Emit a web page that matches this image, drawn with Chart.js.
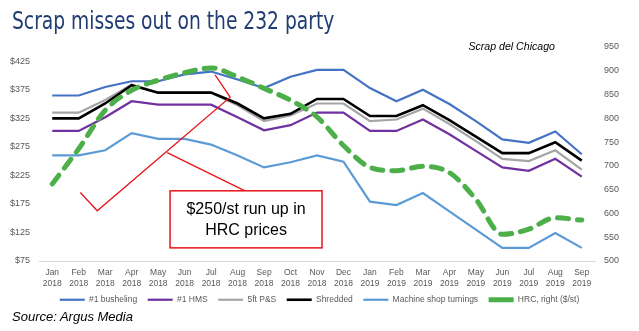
<!DOCTYPE html>
<html lang="en">
<head>
<meta charset="UTF-8" />
<meta name="viewport" content="width=device-width, initial-scale=1.0" />
<title>Scrap misses out on the 232 party</title>
<script src="https://cdn.jsdelivr.net/npm/chart.js"></script>
<style>
  html, body { margin: 0; padding: 0; background: #ffffff; }
  .wrap { position: relative; width: 639px; height: 331px; overflow: hidden; }
  .wrap canvas { position: absolute; left: 0; top: 0; }
  h1 {
    position: absolute; left: 12px; top: 7px; margin: 0;
    font-family: "DejaVu Sans Condensed", "DejaVu Sans", sans-serif;
    font-weight: normal; font-size: 24px; color: #203d74; white-space: nowrap;
    transform: scaleX(0.865); transform-origin: 0 0;
  }
  .sub {
    position: absolute; right: 84px; top: 40px;
    font-family: "Liberation Sans", Arial, sans-serif; font-style: italic; font-size: 10.6px; color: #000;
  }
  .source {
    position: absolute; left: 12px; top: 309px;
    font-family: "Liberation Sans", Arial, sans-serif; font-style: italic; font-size: 13px; color: #000;
  }
</style>
</head>
<body>
<div class="wrap">
  <canvas id="scrapChart" width="639" height="331"></canvas>
  <h1>Scrap misses out on the 232 party</h1>
  <div class="sub">Scrap del Chicago</div>
  <div class="source">Source: Argus Media</div>
</div>

<script>
  // months on the x axis
  const months = [
    ["Jan", "2018"], ["Feb", "2018"], ["Mar", "2018"], ["Apr", "2018"], ["May", "2018"],
    ["Jun", "2018"], ["Jul", "2018"], ["Aug", "2018"], ["Sep", "2018"], ["Oct", "2018"],
    ["Nov", "2018"], ["Dec", "2018"], ["Jan", "2019"], ["Feb", "2019"], ["Mar", "2019"],
    ["Apr", "2019"], ["May", "2019"], ["Jun", "2019"], ["Jul", "2019"], ["Aug", "2019"],
    ["Sep", "2019"]
  ];

  // scrap prices, left axis ($/t)
  const busheling = [365, 365, 380, 390, 390, 402, 407, 393, 378, 398, 410, 410, 378, 355, 375, 350, 320, 288, 282, 302, 262];
  const hms = [303, 303, 327, 355, 349, 349, 349, 327, 304, 313, 335, 335, 303, 303, 323, 297, 268, 239, 233, 254, 223];
  const plateStructural = [335, 335, 357, 384, 370, 370, 370, 348, 320, 330, 351, 351, 320, 323, 342, 315, 285, 254, 250, 269, 235];
  const shredded = [325, 325, 351, 383, 370, 370, 370, 351, 325, 333, 359, 359, 329, 329, 348, 322, 293, 264, 264, 283, 251];
  const turnings = [260, 260, 269, 299, 289, 289, 279, 260, 239, 248, 260, 249, 179, 173, 194, 162, 130, 98, 98, 124, 98];

  // HRC, right axis ($/st)
  const hrc = [662, 736, 817, 859, 880, 896, 906, 887, 863, 838, 803, 743, 697, 690, 699, 686, 630, 556, 567, 591, 586];

  const leftTicks = [75, 125, 175, 225, 275, 325, 375, 425];
  const rightTicks = [500, 550, 600, 650, 700, 750, 800, 850, 900, 950];

  const calloutText = ["$250/st run up in", "HRC prices"];

  const labelFont = "'Liberation Sans', Arial, sans-serif";
  const grey = "#595959";

  // red callout, placed in axis units (x = month index, y = left axis)
  const callout = {
    arrow: [[6.15, 401], [6.72, 362], [1.70, 163], [1.06, 195]],
    pointer: [[4.34, 265], [7.28, 198]],
    box: [4.45, 198, 10.19, 98]
  };

  const calloutPlugin = {
    id: "callout",
    afterLayout(chart) {
      // legend sits a little closer to the axis labels than its padding allows
      const lg = chart.legend;
      if (lg) { lg.top -= 6; lg.bottom -= 6; }
    },
    afterDatasetsDraw(chart) {
      const { ctx } = chart;
      const xs = chart.scales.x;
      const ys = chart.scales.y;
      const px = (p) => [xs.getPixelForValue(p[0]), ys.getPixelForValue(p[1])];
      ctx.save();
      ctx.strokeStyle = "#e8141b";
      ctx.lineWidth = 1.3;
      ctx.beginPath();
      callout.arrow.forEach((p, i) => {
        const [x, y] = px(p);
        if (i === 0) ctx.moveTo(x, y); else ctx.lineTo(x, y);
      });
      ctx.stroke();
      ctx.beginPath();
      ctx.moveTo(...px(callout.pointer[0]));
      ctx.lineTo(...px(callout.pointer[1]));
      ctx.stroke();

      const [x1, y1] = px([callout.box[0], callout.box[1]]);
      const [x2, y2] = px([callout.box[2], callout.box[3]]);
      ctx.fillStyle = "#ffffff";
      ctx.fillRect(x1, y1, x2 - x1, y2 - y1);
      ctx.lineWidth = 1.5;
      ctx.strokeRect(x1, y1, x2 - x1, y2 - y1);

      ctx.fillStyle = "#000000";
      ctx.font = "16px " + labelFont;
      ctx.textAlign = "center";
      ctx.textBaseline = "middle";
      const cx = (x1 + x2) / 2;
      const cy = (y1 + y2) / 2;
      ctx.fillText(calloutText[0], cx, cy - 10);
      ctx.fillText(calloutText[1], cx, cy + 11);
      ctx.restore();
    }
  };

  const line = (label, data, color, order, extra) => Object.assign({
    label: label,
    data: data,
    borderColor: color,
    backgroundColor: color,
    borderWidth: 2.2,
    pointRadius: 0,
    tension: 0,
    yAxisID: "y",
    order: order
  }, extra || {});

  const ctx = document.getElementById("scrapChart").getContext("2d");

  const chart = new Chart(ctx, {
    type: "line",
    data: {
      labels: months,
      datasets: [
        line("#1 busheling", busheling, "#4472c4", 5),
        line("#1 HMS", hms, "#7030a0", 4),
        line("5ft P&S", plateStructural, "#a5a5a5", 3),
        line("Shredded", shredded, "#000000", 2, { borderWidth: 2.6 }),
        line("Machine shop turnings", turnings, "#5b9bd5", 6),
        line("HRC, right ($/st)", hrc, "#4daf4a", 1, {
          yAxisID: "y2",
          borderWidth: 5,
          borderDash: [11, 9],
          borderCapStyle: "round",
          tension: 0.4,
          cubicInterpolationMode: "monotone"
        })
      ]
    },
    options: {
      responsive: false,
      animation: false,
      layout: { padding: { top: 47, left: 0, right: 0, bottom: 11 } },
      plugins: {
        tooltip: { enabled: false },
        legend: {
          position: "bottom",
          labels: {
            usePointStyle: true,
            pointStyle: "line",
            pointStyleWidth: 25,
            boxWidth: 25,
            boxHeight: 9,
            padding: 10.5,
            color: grey,
            font: { size: 8.5, family: labelFont },
            sort: (a, b) => a.datasetIndex - b.datasetIndex
          }
        }
      },
      scales: {
        x: {
          offset: true,
          grid: { display: false, drawTicks: false },
          border: { display: true, color: "#d9d9d9", width: 1 },
          ticks: {
            color: grey,
            font: { size: 8.5, family: labelFont, lineHeight: 1.3 },
            maxRotation: 0,
            autoSkip: false,
            padding: 6
          },
          afterFit(scale) { scale.height = 30; }
        },
        y: {
          position: "left",
          min: 75,
          max: 450,
          grid: { display: false, drawTicks: false },
          border: { display: false },
          ticks: {
            color: grey,
            padding: 9,
            font: { size: 9, family: labelFont },
            callback: (v) => "$" + v
          },
          afterBuildTicks(scale) { scale.ticks = leftTicks.map((v) => ({ value: v })); },
          afterFit(scale) { scale.width = 39; }
        },
        y2: {
          position: "right",
          min: 500,
          max: 950,
          grid: { display: false, drawTicks: false },
          border: { display: false },
          ticks: {
            color: grey,
            padding: 9,
            font: { size: 9, family: labelFont }
          },
          afterBuildTicks(scale) { scale.ticks = rightTicks.map((v) => ({ value: v })); },
          afterFit(scale) { scale.width = 44; }
        }
      }
    },
    plugins: [calloutPlugin]
  });
</script>
</body>
</html>
